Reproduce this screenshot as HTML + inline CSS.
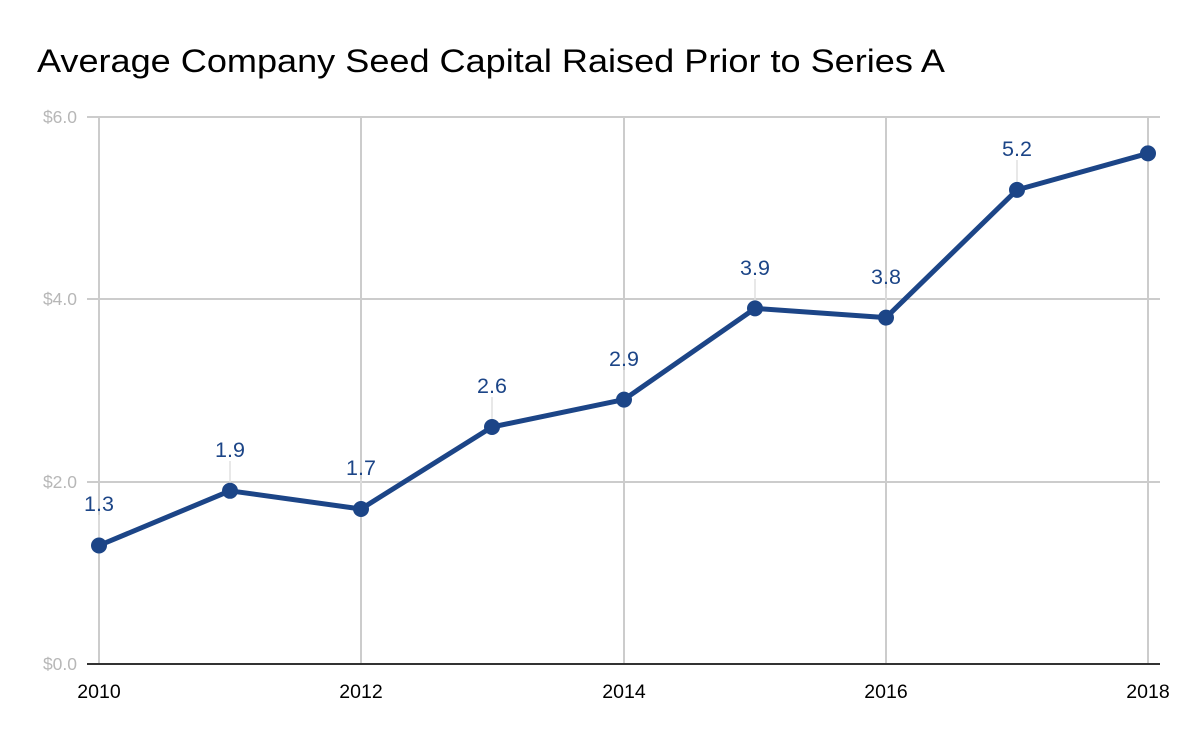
<!DOCTYPE html>
<html><head><meta charset="utf-8"><style>html,body{margin:0;padding:0;background:#fff}svg{display:block}</style></head>
<body>
<svg width="1200" height="742" xmlns="http://www.w3.org/2000/svg" font-family="Liberation Sans, Arial, sans-serif">
<rect width="1200" height="742" fill="#fff"/>
<text x="37" y="72" font-size="32" fill="#000" textLength="908" lengthAdjust="spacingAndGlyphs">Average Company Seed Capital Raised Prior to Series A</text>
<g stroke="#cccccc" stroke-width="2">
<line x1="87" y1="117" x2="1160" y2="117"/>
<line x1="87" y1="299" x2="1160" y2="299"/>
<line x1="87" y1="482" x2="1160" y2="482"/>
<line x1="99" y1="117" x2="99" y2="664"/>
<line x1="361" y1="117" x2="361" y2="664"/>
<line x1="624" y1="117" x2="624" y2="664"/>
<line x1="886" y1="117" x2="886" y2="664"/>
<line x1="1148" y1="117" x2="1148" y2="664"/>
</g>
<line x1="87" y1="664" x2="1160" y2="664" stroke="#333" stroke-width="2"/>
<g font-size="17.5" fill="#b7b7b7" text-anchor="end">
<text x="77" y="123">$6.0</text>
<text x="77" y="305">$4.0</text>
<text x="77" y="488">$2.0</text>
<text x="77" y="670">$0.0</text>
</g>
<g font-size="19.5" fill="#000" text-anchor="middle">
<text x="99" y="698">2010</text>
<text x="361" y="698">2012</text>
<text x="624" y="698">2014</text>
<text x="886" y="698">2016</text>
<text x="1148" y="698">2018</text>
</g>
<g stroke="#e0e0e0" stroke-width="1.5">
<line x1="99" y1="515" x2="99" y2="545"/>
<line x1="230" y1="461" x2="230" y2="491"/>
<line x1="361" y1="479" x2="361" y2="509"/>
<line x1="492" y1="397" x2="492" y2="427"/>
<line x1="624" y1="370" x2="624" y2="400"/>
<line x1="755" y1="279" x2="755" y2="309"/>
<line x1="886" y1="288" x2="886" y2="318"/>
<line x1="1017" y1="160" x2="1017" y2="190"/>
</g>
<polyline fill="none" stroke="#1c4587" stroke-width="5" stroke-linejoin="round" points="99,545.5 230,490.8 361,509 492,427 624,399.6 755,308.4 886,317.6 1017,189.9 1148,153.4"/>
<g fill="#1c4587">
<circle cx="99" cy="545.5" r="8"/><circle cx="230" cy="490.8" r="8"/><circle cx="361" cy="509" r="8"/>
<circle cx="492" cy="427" r="8"/><circle cx="624" cy="399.6" r="8"/><circle cx="755" cy="308.4" r="8"/>
<circle cx="886" cy="317.6" r="8"/><circle cx="1017" cy="189.9" r="8"/><circle cx="1148" cy="153.4" r="8"/>
</g>
<g font-size="21.5" fill="#1c4587" text-anchor="middle">
<text x="99" y="511">1.3</text>
<text x="230" y="457">1.9</text>
<text x="361" y="475">1.7</text>
<text x="492" y="393">2.6</text>
<text x="624" y="366">2.9</text>
<text x="755" y="275">3.9</text>
<text x="886" y="284">3.8</text>
<text x="1017" y="156">5.2</text>
</g>
</svg>
</body></html>
